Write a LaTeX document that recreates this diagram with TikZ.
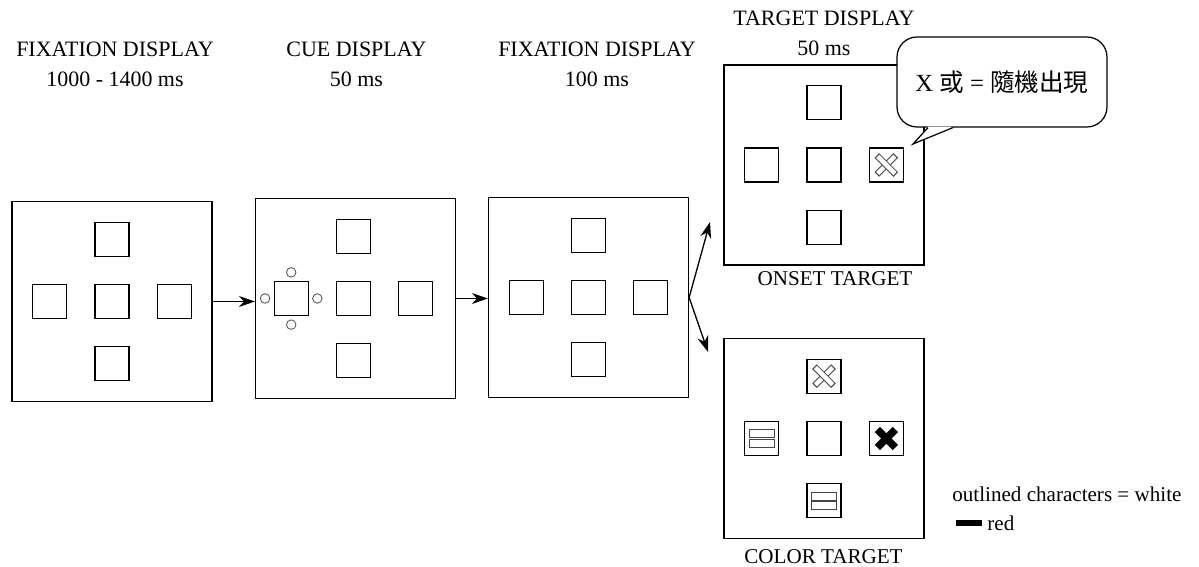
\documentclass[tikz,border=0pt]{standalone}
\usepackage{fontspec}
\setmainfont{Liberation Serif}
\newfontfamily\cjk{Noto Sans CJK TC}
\usepackage{tikz}
\usetikzlibrary{positioning, arrows.meta}

\begin{document}
\begin{tikzpicture}[x=0.02cm, y=0.02cm, >={Stealth[length=0.32cm, width=0.22cm]},
    font=\fontsize{12.5}{17}\selectfont, node distance=0.54cm,
    panel/.style={draw, line width=0.75pt, minimum size=4cm, inner sep=0pt},
    cell/.style={draw, line width=0.75pt, minimum size=0.68cm, inner sep=0pt},
    dot/.style={draw, gray!70!black, line width=0.5pt, circle, minimum size=0.19cm, inner sep=0pt},
    title/.style={align=center},
    caption/.style={font=\fontsize{12}{14}\selectfont},
    bubble/.style={draw, fill=white, rounded corners=0.4cm, line width=0.7pt, minimum width=4.2cm, minimum height=1.8cm, font=\fontsize{14}{17}\selectfont},
    xbar/.style={line width=0.13cm, gray!55!black},
    xfill/.style={line width=0.09cm, white, shorten <=0.025cm, shorten >=0.025cm},
    eqbar/.style={gray!55!black, line width=0.65pt},
    legend/.style={inner sep=0pt, anchor=west, font=\fontsize{12}{14}\selectfont}]
  \useasboundingbox (0,0) rectangle (1199,567);

  \node[title] (t1) at (115,502.5) {FIXATION DISPLAY\\1000 - 1400 ms};
  \node[title] (t2) at (356.5,502.5) {CUE DISPLAY\\50 ms};
  \node[title] (t3) at (597,502.5) {FIXATION DISPLAY\\100 ms};
  \node[title] (t4) at (824,534) {TARGET DISPLAY\\50 ms};

  \node[panel] (p1) at (112,265.5) {};
  \node[panel] (p2) at (355.5,268.5) {};
  \node[panel] (p3) at (588.5,269.5) {};
  \node[panel] (p4) at (824,402) {};
  \node[panel] (p5) at (824,128.5) {};

  \foreach \p in {p1,p3,p4,p5} {
    \node[cell] (\p c) at (\p) {};
    \node[cell, above=of \p c] (\p t) {};
    \node[cell, below=of \p c] (\p b) {};
    \node[cell, left=of \p c] (\p l) {};
    \node[cell, right=of \p c] (\p r) {};
  }

  \node[cell] (p2c) at (353.5,268.5) {};
  \node[cell, above=of p2c] (p2t) {};
  \node[cell, below=of p2c] (p2b) {};
  \node[cell, right=of p2c] (p2r) {};
  \node[cell, left=of p2c] (cue) {};
  \node[dot, above=0.066cm of cue] (cueN) {};
  \node[dot, below=0.066cm of cue] (cueS) {};
  \node[dot, left=0.066cm of cue] (cueW) {};
  \node[dot, right=0.066cm of cue] (cueE) {};

  \draw[->, line width=0.75pt] (p1.east) -- (p1.east -| p2.west);
  \draw[->, line width=0.75pt] (p2.east) -- (p2.east -| p3.west);
  \coordinate (up) at (710,345);
  \coordinate (dn) at (708,215);
  \draw[->, line width=0.75pt] (p3.east) -- (up);
  \draw[->, line width=0.75pt] (p3.east) -- (dn);

  \foreach \cel in {p4r, p5t} {
    \draw[xbar] ([shift={(-9.5,-9.5)}]\cel.center) -- ([shift={(9.5,9.5)}]\cel.center);
    \draw[xfill] ([shift={(-9.5,-9.5)}]\cel.center) -- ([shift={(9.5,9.5)}]\cel.center);
    \draw[xbar] ([shift={(-9.5,9.5)}]\cel.center) -- ([shift={(9.5,-9.5)}]\cel.center);
    \draw[xfill] ([shift={(-9.5,9.5)}]\cel.center) -- ([shift={(9.5,-9.5)}]\cel.center);
  }
  \draw[line width=0.15cm] ([shift={(-9,-9)}]p5r.center) -- ([shift={(9,9)}]p5r.center);
  \draw[line width=0.15cm] ([shift={(-9,9)}]p5r.center) -- ([shift={(9,-9)}]p5r.center);
  \foreach \cel in {p5l, p5b} {
    \draw[eqbar] ([shift={(-12.5,0.6)}]\cel.center) rectangle ([shift={(12.5,8.6)}]\cel.center);
    \draw[eqbar] ([shift={(-12.5,-8.6)}]\cel.center) rectangle ([shift={(12.5,-0.6)}]\cel.center);
  }

  \node[caption] (onset) at (835,288) {ONSET TARGET};
  \node[caption] (colour) at (823.5,10) {COLOR TARGET};

  \node[bubble] (note) at (1002,485) {X {\cjk 或} = {\cjk 隨機出現}};
  \coordinate (tip) at (913,423);
  \fill[white] ([shift={(-74,1)}]note.south) -- (tip) -- ([shift={(-49,1)}]note.south) -- cycle;
  \draw[line width=0.7pt] ([shift={(-74,0)}]note.south) -- (tip) -- ([shift={(-49,0)}]note.south);

  \node[legend] (leg1) at (952,72.5) {outlined characters = white};
  \node[legend] (leg2) at (987,44) {red};
  \node[fill=black, minimum width=0.52cm, minimum height=0.11cm, inner sep=0pt, left=0.1cm of leg2] (key) {};
\end{tikzpicture}
\end{document}
